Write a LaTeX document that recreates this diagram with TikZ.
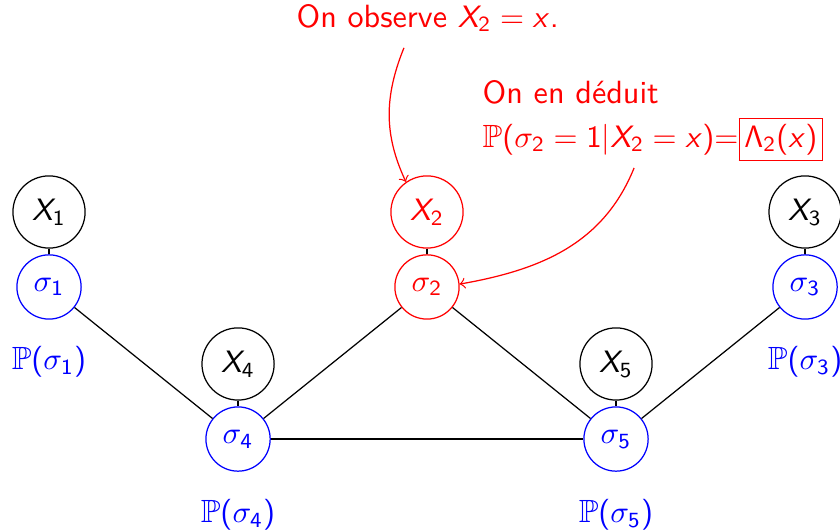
\documentclass[tikz,border=0pt,11pt]{standalone}
\usepackage{amssymb}
\usepackage{tikz}
\renewcommand{\familydefault}{\sfdefault}
% sans serif math, as in slides
\SetSymbolFont{operators}{normal}{OT1}{cmss}{m}{n}
\DeclareSymbolFont{sfslanted}{OT1}{cmss}{m}{sl}
\DeclareMathSymbol{X}{\mathalpha}{sfslanted}{`X}
\DeclareMathSymbol{x}{\mathalpha}{sfslanted}{`x}

\begin{document}
\begin{tikzpicture}[
    font=\fontsize{10.4}{14}\selectfont,
    obs/.style={draw, circle, minimum size=0.82cm, inner sep=0pt},
    hid/.style={draw=blue, circle, minimum size=0.73cm, inner sep=0pt, text=blue},
    prob/.style={text=blue},
    line/.style={draw, black},
    note/.style={draw, red, ->}
]
    \useasboundingbox (0, 0) rectangle (9.545, 6.034);

    % Top row: X_1, X_2, X_3
    \node[obs] (x1) at (0.557, 3.625) {$X_1$};
    \node[obs, draw=red, text=red] (x2) at (4.852, 3.625) {$X_2$};
    \node[obs] (x3) at (9.148, 3.625) {$X_3$};

    \node[hid] (s1) at (0.557, 2.773) {$\sigma_1$};
    \node[hid, draw=red, text=red] (s2) at (4.852, 2.773) {$\sigma_2$};
    \node[hid] (s3) at (9.148, 2.773) {$\sigma_3$};

    \node[prob] (p1) at (0.557, 1.92) {$\mathbb{P}(\sigma_1)$};
    \node[prob] (p3) at (9.148, 1.92) {$\mathbb{P}(\sigma_3)$};

    % Bottom row: X_4, X_5
    \node[obs] (x4) at (2.705, 1.898) {$X_4$};
    \node[obs] (x5) at (7.0, 1.898) {$X_5$};

    \node[hid] (s4) at (2.705, 1.045) {$\sigma_4$};
    \node[hid] (s5) at (7.0, 1.045) {$\sigma_5$};

    \node[prob] (p4) at (2.705, 0.182) {$\mathbb{P}(\sigma_4)$};
    \node[prob] (p5) at (7.0, 0.182) {$\mathbb{P}(\sigma_5)$};

    \draw[line] (x1) -- (s1);
    \draw[line] (x2) -- (s2);
    \draw[line] (x3) -- (s3);
    \draw[line] (x4) -- (s4);
    \draw[line] (x5) -- (s5);

    \draw[line] (s1) -- (s4);
    \draw[line] (s4) -- (s2);
    \draw[line] (s2) -- (s5);
    \draw[line] (s4) -- (s5);
    \draw[line] (s5) -- (s3);

    % Annotations
    \node[text=red] (obsv) at (4.86, 5.83) {On observe $X_2 = x$.};
    \node[text=red, align=left, anchor=west] (dedu) at (5.35, 4.66)
        {On en déduit\\ $\mathbb{P}(\sigma_2 = 1 | X_2 = x) {=} $\setlength{\fboxsep}{1.5pt}\fcolorbox{red}{white}{$\Lambda_2(x)$}};

    \coordinate (c1) at (4.59, 5.49);
    \coordinate (c2) at (7.205, 4.125);
    \draw[note] (c1) to[out=-112, in=115] (x2.125);
    \draw[note] (c2) to[out=-112, in=10] (s2.5);

\end{tikzpicture}
\end{document}
